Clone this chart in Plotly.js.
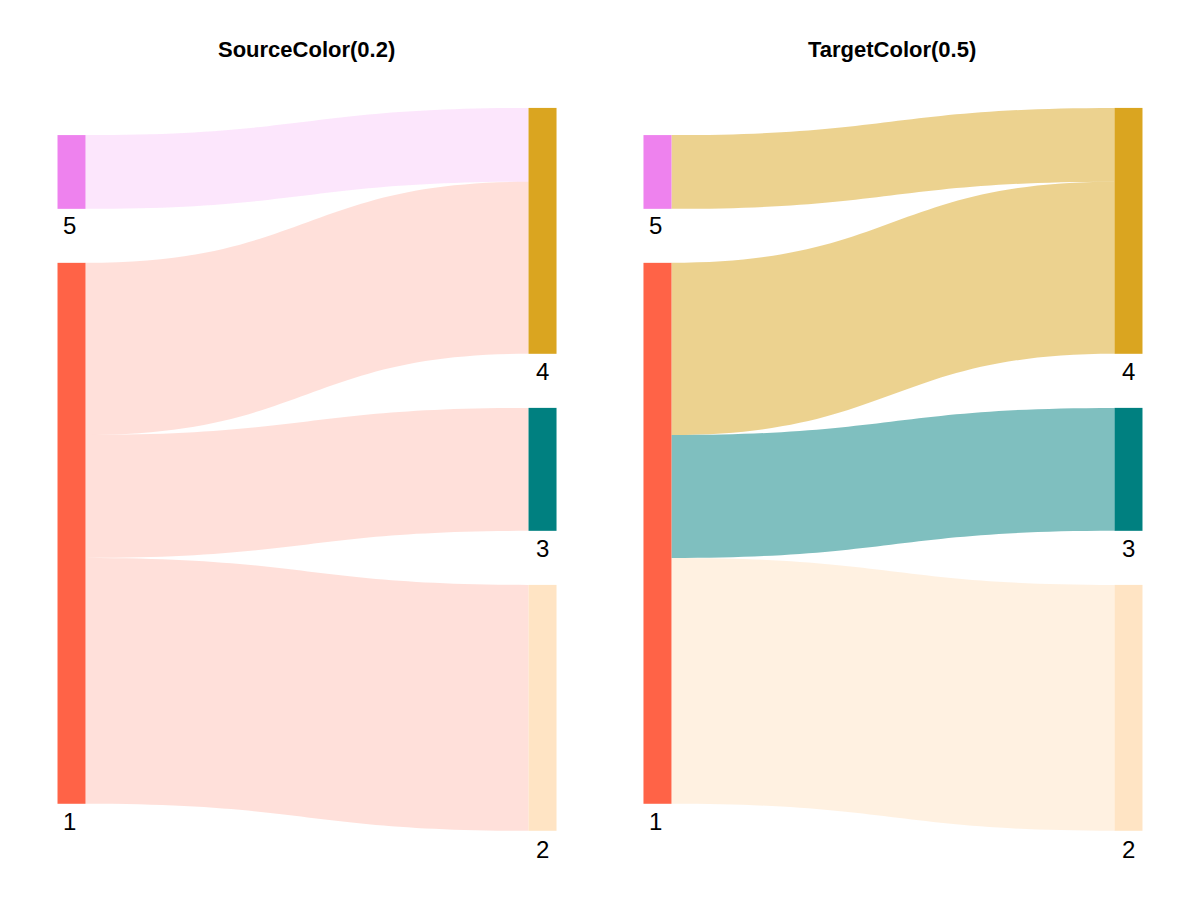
<!DOCTYPE html>
<html>
<head>
<meta charset="utf-8">
<script src="https://cdn.plot.ly/plotly-3.0.1.min.js"></script>
</head>
<body style="margin:0">
<div id="chart" style="width:1200px;height:900px"></div>
<script>
// nodes: 5, 1 on the left; 4, 3, 2 on the right
var nodeLabels = ["5", "1", "4", "3", "2"];
var nodeColors = ["#EE82EE", "#FF6347", "#DAA520", "#008080", "#FFE4C4"];
var linkSource = [0, 1, 1, 1];
var linkTarget = [2, 2, 3, 4];
var linkValue = [3, 7, 5, 10];
var titles = ["SourceColor(0.2)", "TargetColor(0.5)"];

function withAlpha(hex, a) {
  var r = parseInt(hex.substr(1, 2), 16), g = parseInt(hex.substr(3, 2), 16), b = parseInt(hex.substr(5, 2), 16);
  return 'rgba(' + r + ',' + g + ',' + b + ',' + a + ')';
}

var nodeX = [0.001, 0.001, 0.999, 0.999, 0.999];
var nodeY = [0.0885, 0.5885, 0.17, 0.5, 0.83];

function makeSankey(domainX, linkColors) {
  return {
    type: 'sankey',
    arrangement: 'fixed',
    domain: {x: domainX, y: [0.077, 0.88]},
    node: {
      label: nodeLabels.map(function () { return ''; }),
      color: nodeColors,
      x: nodeX,
      y: nodeY,
      pad: 54,
      thickness: 28,
      line: {width: 0}
    },
    link: {
      source: linkSource,
      target: linkTarget,
      value: linkValue,
      color: linkColors,
      hoverinfo: 'none'
    }
  };
}

var leftColors = linkSource.map(function (s) { return withAlpha(nodeColors[s], 0.2); });
var rightColors = linkTarget.map(function (t) { return withAlpha(nodeColors[t], 0.5); });
var data = [
  makeSankey([0.0592, 0.4525], leftColors),
  makeSankey([0.5475, 0.9408], rightColors)
];

// label positions below nodes (paper coords)
var labelPos = [[0.058, 0.749], [0.058, 0.087], [0.452, 0.587], [0.452, 0.391], [0.452, 0.056]];
var annotations = [];
[0, 0.4883].forEach(function (dx, p) {
  annotations.push({
    text: '<b>' + titles[p] + '</b>', xref: 'paper', yref: 'paper',
    x: 0.255 + dx, y: 0.945, showarrow: false, xanchor: 'center', yanchor: 'middle',
    font: {family: 'Liberation Sans, Arial', size: 22, color: 'black'}
  });
  nodeLabels.forEach(function (lab, i) {
    annotations.push({
      text: lab, xref: 'paper', yref: 'paper',
      x: labelPos[i][0] + dx, y: labelPos[i][1], showarrow: false,
      xanchor: 'center', yanchor: 'middle',
      font: {family: 'Liberation Sans, Arial', size: 24, color: 'black'}
    });
  });
});

var layout = {
  width: 1200,
  height: 900,
  margin: {l: 0, r: 0, t: 0, b: 0},
  paper_bgcolor: 'white',
  annotations: annotations
};
Plotly.newPlot('chart', data, layout, {displayModeBar: false});
</script>
</body>
</html>
